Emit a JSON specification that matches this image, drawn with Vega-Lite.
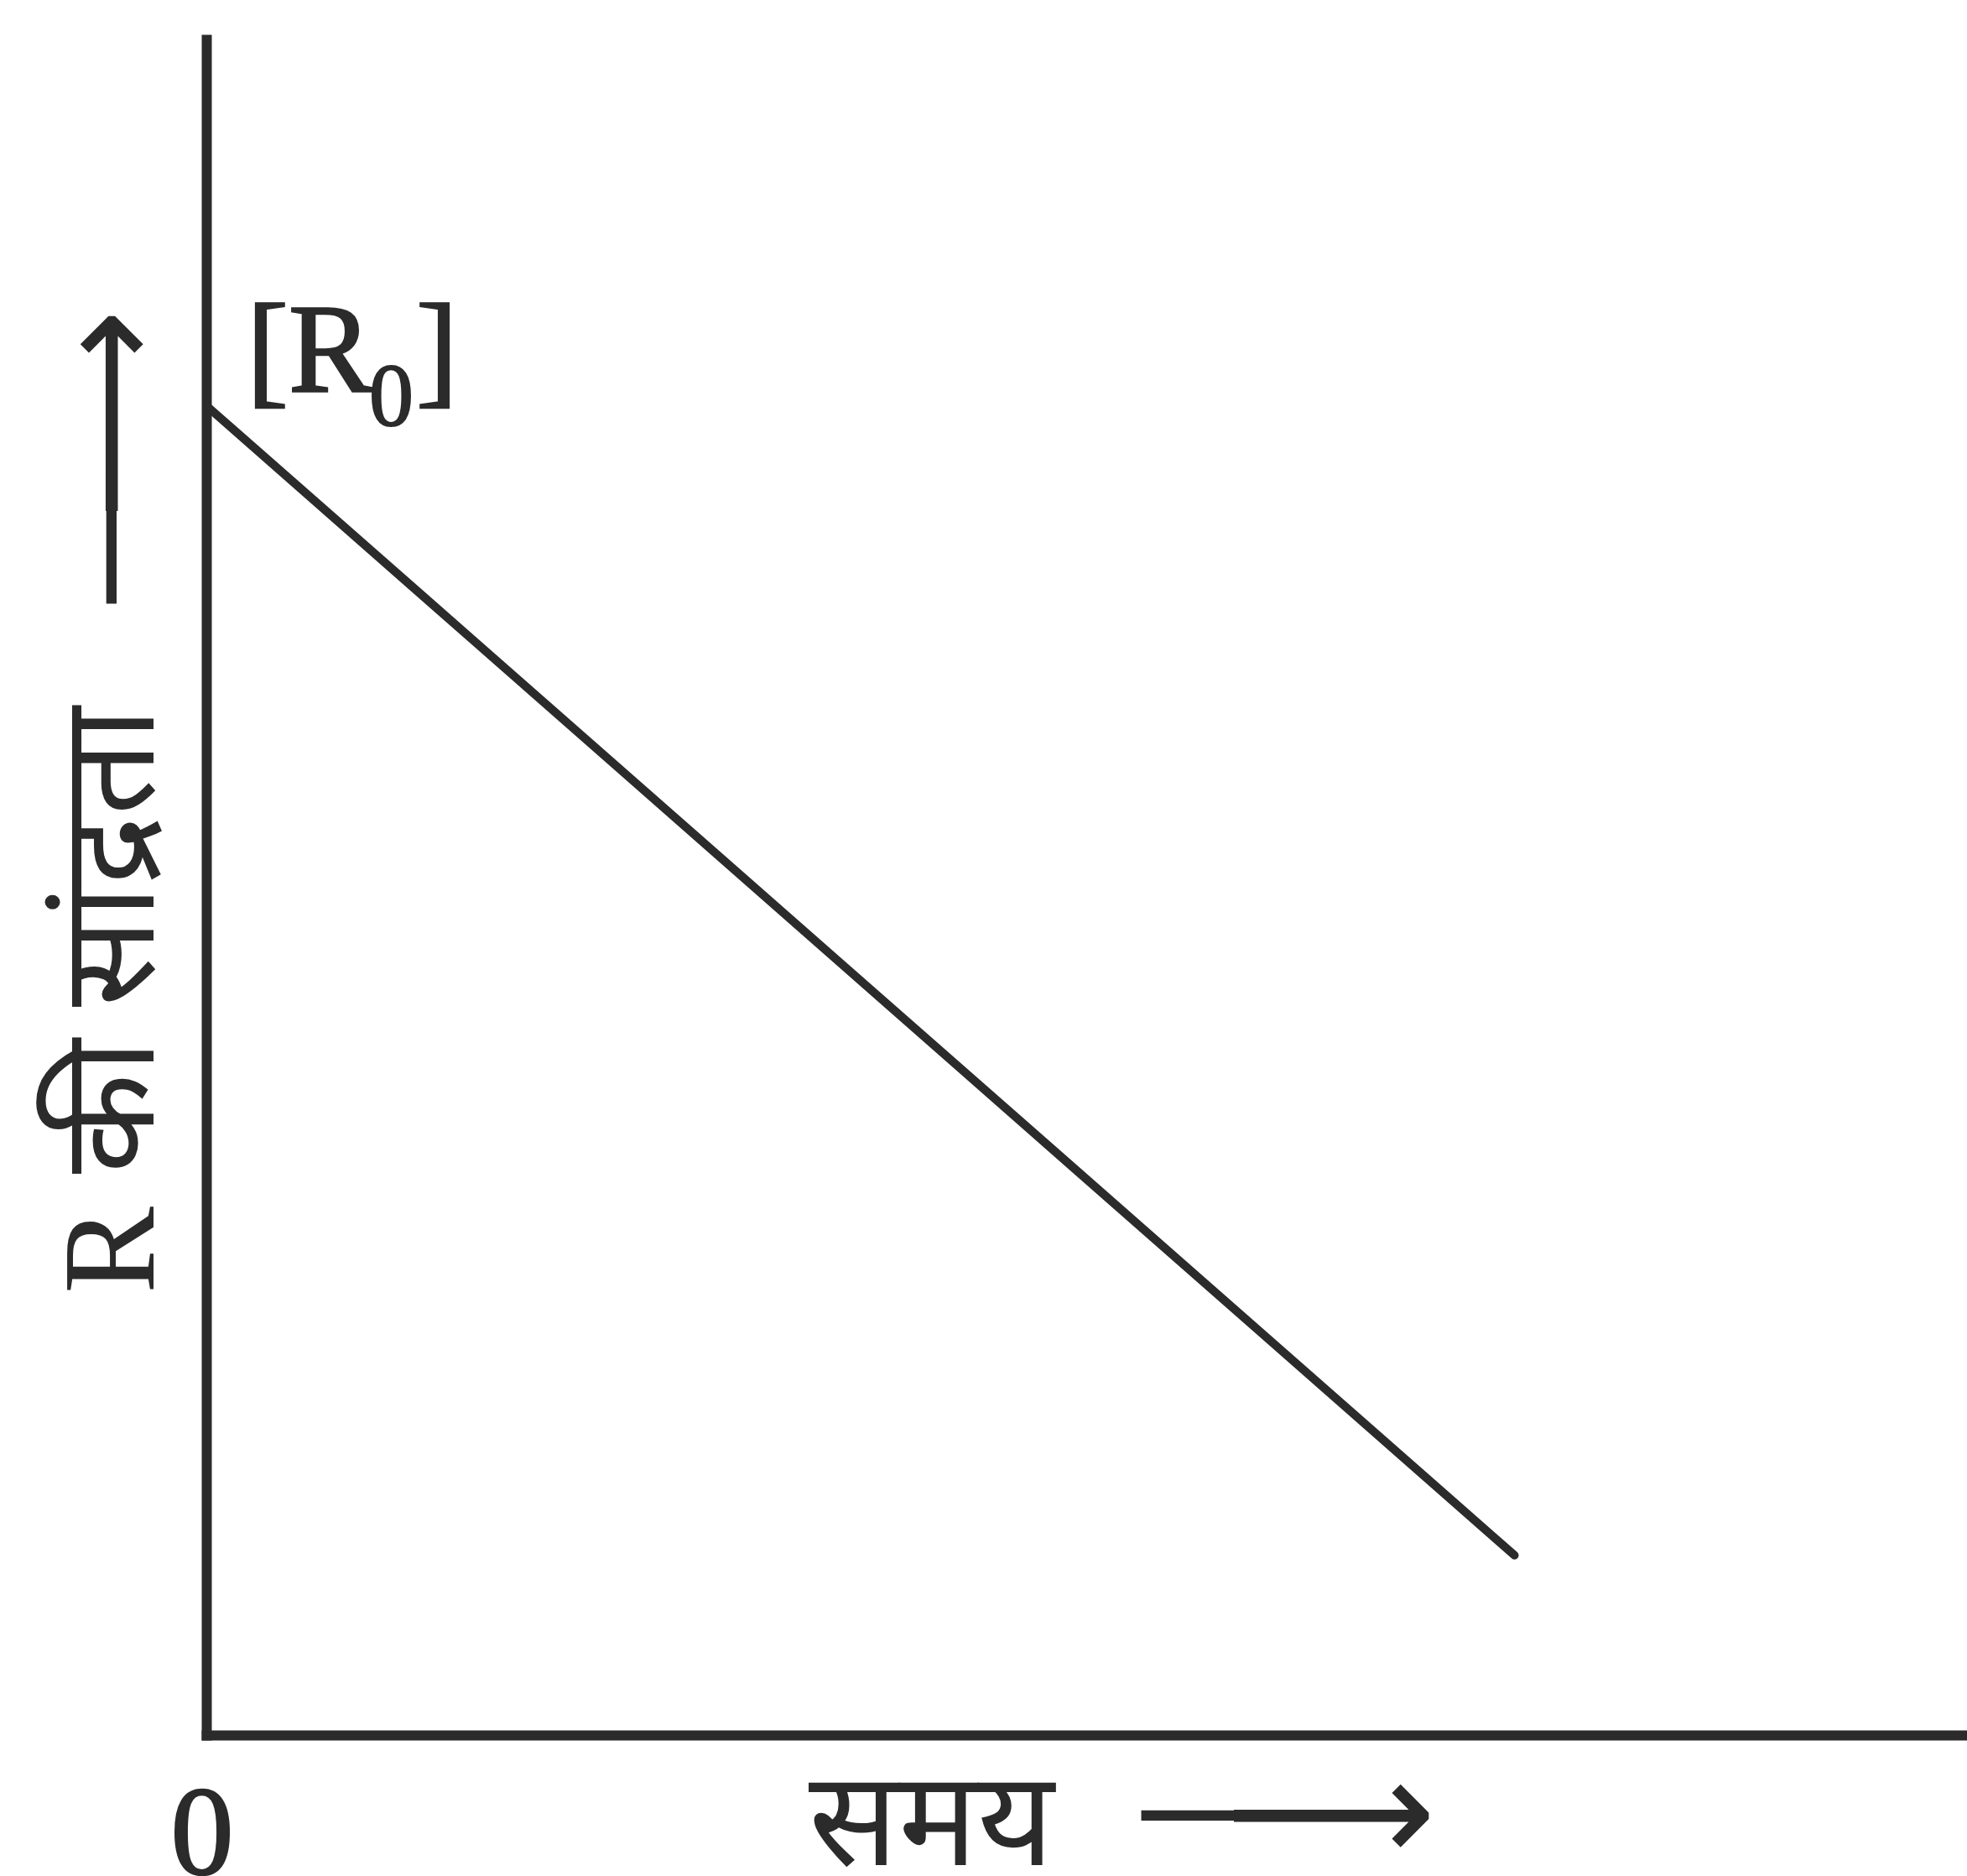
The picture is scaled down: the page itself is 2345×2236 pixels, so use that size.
{
  "$schema": "https://vega.github.io/schema/vega-lite/v6.json",
  "width": 2099,
  "height": 2021,
  "autosize": {"type": "none"},
  "padding": {"left": 246, "top": 47, "right": 0, "bottom": 168},
  "background": "white",
  "config": {"view": {"stroke": null}},
  "datasets": {
    "curve": [
      {"time": 0, "conc": 78.4},
      {"time": 74.3, "conc": 10.6}
    ],
    "labels": [
      {"time": 0, "conc": 78.4, "label": "[R"},
      {"time": 0, "conc": 78.4, "label": "0"},
      {"time": 0, "conc": 78.4, "label": "]"},
      {"time": 0, "conc": 0, "label": "0"},
      {"time": 0, "conc": 0, "label": "⟶"},
      {"time": 0, "conc": 0, "label": "—"}
    ]
  },
  "layer": [
    {
      "data": {"name": "curve"},
      "mark": {"type": "line", "color": "#2b2b2b", "strokeWidth": 10, "strokeCap": "round"},
      "encoding": {
        "x": {
          "field": "time", "type": "quantitative",
          "scale": {"domain": [0, 100], "nice": false, "zero": false},
          "axis": {
            "title": "समय",
            "titleFont": "Liberation Serif", "titleFontSize": 158, "titleFontWeight": "normal", "titleColor": "#2b2b2b",
            "titleAnchor": "start", "titleAlign": "center", "titleBaseline": "alphabetic",
            "titleX": 864, "titleY": 154,
            "domain": true, "domainColor": "#2b2b2b", "domainWidth": 12, "domainCap": "square",
            "ticks": false, "grid": false, "labels": false
          }
        },
        "y": {
          "field": "conc", "type": "quantitative",
          "scale": {"domain": [0, 100], "nice": false, "zero": false},
          "axis": {
            "title": "R की सांद्रता",
            "titleFont": "Liberation Serif", "titleFontSize": 156, "titleFontWeight": "normal", "titleColor": "#2b2b2b",
            "titleAngle": -90, "titleAlign": "center", "titleBaseline": "alphabetic",
            "titleX": -64, "titleY": 1145,
            "domain": true, "domainColor": "#2b2b2b", "domainWidth": 12, "domainCap": "square",
            "ticks": false, "grid": false, "labels": false
          }
        }
      }
    },
    {
      "data": {"name": "labels"},
      "transform": [{"filter": "datum.label === '[R'"}],
      "mark": {"type": "text", "font": "Liberation Serif", "fontSize": 150, "color": "#2b2b2b", "stroke": "#2b2b2b", "strokeWidth": 2.5, "align": "left", "baseline": "alphabetic", "dx": 48, "dy": -18},
      "encoding": {
        "x": {"field": "time", "type": "quantitative"},
        "y": {"field": "conc", "type": "quantitative"},
        "text": {"field": "label"}
      }
    },
    {
      "data": {"name": "labels"},
      "transform": [{"filter": "datum.label === '0' && datum.conc > 0"}],
      "mark": {"type": "text", "font": "Liberation Serif", "fontSize": 106, "color": "#2b2b2b", "stroke": "#2b2b2b", "strokeWidth": 2, "align": "left", "baseline": "alphabetic", "dx": 194, "dy": 23},
      "encoding": {
        "x": {"field": "time", "type": "quantitative"},
        "y": {"field": "conc", "type": "quantitative"},
        "text": {"field": "label"}
      }
    },
    {
      "data": {"name": "labels"},
      "transform": [{"filter": "datum.label === ']'"}],
      "mark": {"type": "text", "font": "Liberation Serif", "fontSize": 150, "color": "#2b2b2b", "stroke": "#2b2b2b", "strokeWidth": 2.5, "align": "left", "baseline": "alphabetic", "dx": 250, "dy": -18},
      "encoding": {
        "x": {"field": "time", "type": "quantitative"},
        "y": {"field": "conc", "type": "quantitative"},
        "text": {"field": "label"}
      }
    },
    {
      "data": {"name": "labels"},
      "transform": [{"filter": "datum.label === '0' && datum.conc === 0"}],
      "mark": {"type": "text", "font": "Liberation Serif", "fontSize": 150, "color": "#2b2b2b", "stroke": "#2b2b2b", "strokeWidth": 2.5, "align": "center", "baseline": "alphabetic", "dx": -5, "dy": 166},
      "encoding": {
        "x": {"field": "time", "type": "quantitative"},
        "y": {"field": "conc", "type": "quantitative"},
        "text": {"field": "label"}
      }
    },
    {
      "data": {"name": "labels"},
      "transform": [{"filter": "datum.label === '⟶'"}],
      "mark": {"type": "text", "font": "DejaVu Sans", "fontSize": 175, "color": "#2b2b2b", "align": "right", "baseline": "alphabetic", "dx": 1466, "dy": 151},
      "encoding": {
        "x": {"field": "time", "type": "quantitative"},
        "y": {"field": "conc", "type": "quantitative"},
        "text": {"field": "label"}
      }
    },
    {
      "data": {"name": "labels"},
      "transform": [{"filter": "datum.label === '—'"}],
      "mark": {"type": "text", "font": "DejaVu Sans", "fontSize": 175, "color": "#2b2b2b", "align": "left", "baseline": "alphabetic", "dx": 1106, "dy": 144},
      "encoding": {
        "x": {"field": "time", "type": "quantitative"},
        "y": {"field": "conc", "type": "quantitative"},
        "text": {"field": "label"}
      }
    },
    {
      "data": {"name": "labels"},
      "transform": [{"filter": "datum.label === '⟶'"}],
      "mark": {"type": "text", "font": "DejaVu Sans", "fontSize": 175, "color": "#2b2b2b", "align": "right", "baseline": "alphabetic", "angle": 270, "dx": 1700, "dy": -58},
      "encoding": {
        "x": {"field": "time", "type": "quantitative"},
        "y": {"field": "conc", "type": "quantitative"},
        "text": {"field": "label"}
      }
    },
    {
      "data": {"name": "labels"},
      "transform": [{"filter": "datum.label === '—'"}],
      "mark": {"type": "text", "font": "DejaVu Sans", "fontSize": 175, "color": "#2b2b2b", "align": "left", "baseline": "alphabetic", "angle": 270, "dx": 1340, "dy": -65},
      "encoding": {
        "x": {"field": "time", "type": "quantitative"},
        "y": {"field": "conc", "type": "quantitative"},
        "text": {"field": "label"}
      }
    }
  ]
}
